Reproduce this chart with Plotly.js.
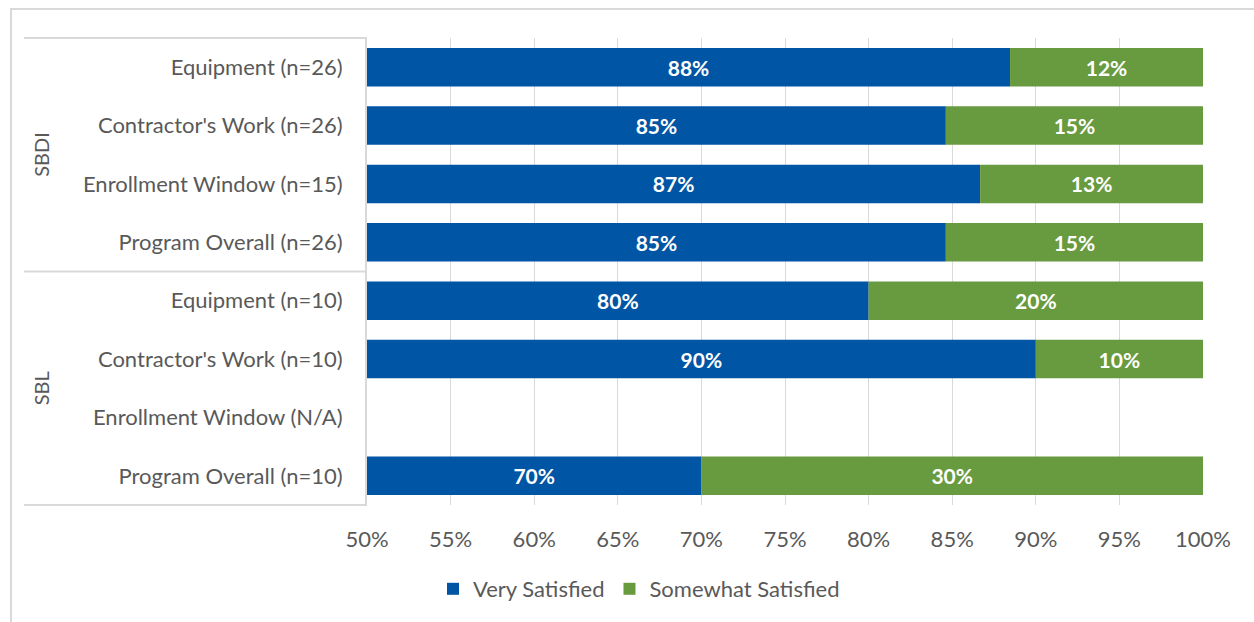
<!DOCTYPE html>
<html>
<head>
<meta charset="utf-8">
<script src="https://cdn.plot.ly/plotly-3.0.1.min.js"></script>
<style>html,body{margin:0;padding:0;background:#fff;}#chart{width:1254px;height:622px;}</style>
</head>
<body>
<div id="chart"></div>
<script>
var categories = [
  "Equipment (n=26)",
  "Contractor's Work (n=26)",
  "Enrollment Window (n=15)",
  "Program Overall (n=26)",
  "Equipment (n=10)",
  "Contractor's Work (n=10)",
  "Enrollment Window (N/A)",
  "Program Overall (n=10)"
];
var groups = ["SBDI", "SBL"];
var verySatisfied = [88.46, 84.62, 86.67, 84.62, 80, 90, null, 70];
var somewhatSatisfied = [11.54, 15.38, 13.33, 15.38, 20, 10, null, 30];
var xTicks = [50, 55, 60, 65, 70, 75, 80, 85, 90, 95, 100];
var xMin = 50, xMax = 100;

var FONT = "Lato, 'Open Sans', sans-serif";
var BLUE = "#0055A5";
var GREEN = "#689A40";
var GRAY = "#595959";
var FS = 22;

function lbl(v){ return v == null ? "" : Math.round(v) + "%"; }

var t1 = {
  type: "bar", orientation: "h", name: "Very Satisfied",
  y: categories,
  base: verySatisfied.map(function(v){ return v == null ? null : xMin; }),
  x: verySatisfied.map(function(v){ return v == null ? null : v - xMin; }),
  text: verySatisfied.map(lbl),
  textposition: "inside", insidetextanchor: "middle",
  textfont: {family: FONT, size: 21, color: "#ffffff", weight: "bold"},
  marker: {color: BLUE},
  hoverinfo: "skip"
};
var t2 = {
  type: "bar", orientation: "h", name: "Somewhat Satisfied",
  y: categories,
  base: verySatisfied,
  x: somewhatSatisfied,
  text: somewhatSatisfied.map(lbl),
  textposition: "inside", insidetextanchor: "middle",
  textfont: {family: FONT, size: 21, color: "#ffffff", weight: "bold"},
  marker: {color: GREEN},
  hoverinfo: "skip"
};

var W = 1254, H = 622;
var L = 367, R = 51, T = 38, B = 117;
var pw = W - L - R, ph = H - T - B;
function px(xpx){ return (xpx - L) / pw; }
function py(ypx){ return (H - B - ypx) / ph; }

var shapes = [
  {type: "rect", xref: "paper", yref: "paper", x0: px(11), x1: px(1400), y0: py(700), y1: py(9),
   line: {color: "#d9d9d9", width: 2}, fillcolor: "rgba(0,0,0,0)", layer: "below"},
  {type: "line", xref: "paper", yref: "paper", x0: px(24), x1: 0, y0: 1, y1: 1, line: {color: "#d9d9d9", width: 2}},
  {type: "line", xref: "paper", yref: "paper", x0: px(24), x1: 0, y0: 0.5, y1: 0.5, line: {color: "#d9d9d9", width: 2}},
  {type: "line", xref: "paper", yref: "paper", x0: px(24), x1: 0, y0: 0, y1: 0, line: {color: "#d9d9d9", width: 2}}
];

var annotations = [
  {xref: "paper", yref: "paper", x: px(41), y: 0.75, text: groups[0], showarrow: false, textangle: -90,
   font: {family: FONT, size: 20, color: GRAY}, xanchor: "center", yanchor: "middle"},
  {xref: "paper", yref: "paper", x: px(41), y: 0.25, text: groups[1], showarrow: false, textangle: -90,
   font: {family: FONT, size: 20, color: GRAY}, xanchor: "center", yanchor: "middle"}
];

var layout = {
  width: W, height: H,
  margin: {l: L, r: R, t: T, b: B, pad: 0},
  paper_bgcolor: "#ffffff", plot_bgcolor: "#ffffff",
  barmode: "overlay", bargap: 0.34,
  showlegend: true,
  legend: {orientation: "h", x: px(639), xanchor: "center", y: py(589), yanchor: "middle",
    font: {family: FONT, size: FS, color: GRAY}, traceorder: "normal", itemwidth: 30},
  xaxis: {
    range: [xMin, xMax], tickvals: xTicks, ticktext: xTicks.map(function(v){ return v + "%"; }),
    showgrid: true, gridcolor: "#d9d9d9", gridwidth: 1, zeroline: false, showline: false,
    ticks: "", ticklabelstandoff: 19,
    tickfont: {family: FONT, size: FS, color: GRAY}, fixedrange: true
  },
  yaxis: {
    type: "category", categoryorder: "array", categoryarray: categories, autorange: "reversed",
    showgrid: false, zeroline: false, showline: true, linecolor: "#d9d9d9", linewidth: 2,
    ticks: "", ticklabelstandoff: 18,
    tickfont: {family: FONT, size: FS, color: GRAY}, fixedrange: true
  },
  shapes: shapes,
  annotations: annotations,
  font: {family: FONT}
};

Plotly.newPlot("chart", [t1, t2], layout, {displayModeBar: false, staticPlot: true});
</script>
</body>
</html>
